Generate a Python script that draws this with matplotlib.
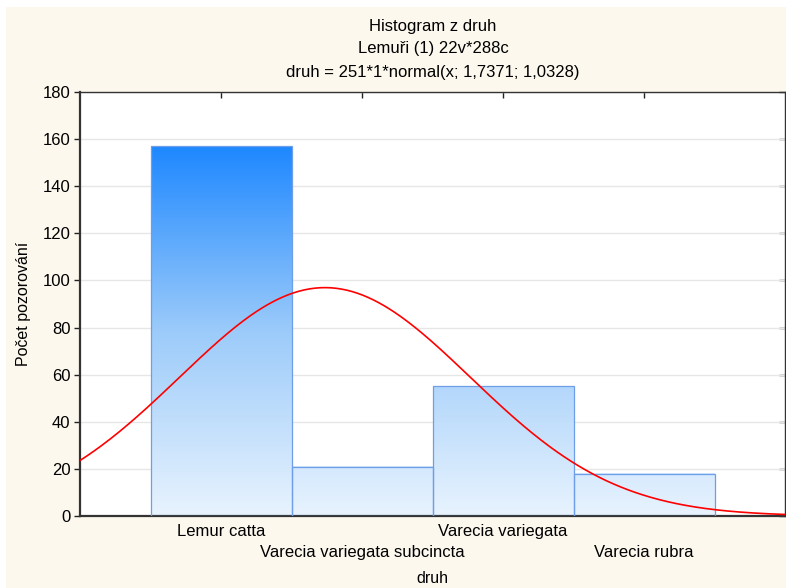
import numpy as np
import matplotlib
matplotlib.use("Agg")
import matplotlib.pyplot as plt
from matplotlib.colors import LinearSegmentedColormap
from matplotlib.patches import Rectangle
from matplotlib import font_manager

# ── Data ─────────────────────────────────────────────────────────────────
species = ["Lemur catta", "Varecia variegata subcincta",
           "Varecia variegata", "Varecia rubra"]
codes = [1, 2, 3, 4]
counts = [157, 21, 55, 18]

# fitted normal from the title: druh = 251*1*normal(x; 1,7371; 1,0328)
fit_n = 251
fit_mean = 1.7371
fit_sd = 1.0328

title_lines = ["Histogram z druh", "Lemuři (1) 22v*288c",
               "druh = 251*1*normal(x; 1,7371; 1,0328)"]

# ── Fonts ────────────────────────────────────────────────────────────────
names = {f.name for f in font_manager.fontManager.ttflist}
base_font = "Liberation Sans" if "Liberation Sans" in names else "DejaVu Sans"
narrow_font = "Liberation Sans Narrow" if "Liberation Sans Narrow" in names else base_font
plt.rcParams["font.family"] = [base_font, "DejaVu Sans"]

cream = "#fcf8ee"
fig = plt.figure(figsize=(7.86, 5.88), dpi=100, facecolor="white")
fig.patches.append(Rectangle((6 / 786, 0), 1, 1 - 7 / 588, transform=fig.transFigure,
                             facecolor=cream, edgecolor="none", zorder=-10))

ax = fig.add_axes([80 / 786, 72 / 588, 705 / 786, 424 / 588])
ax.set_facecolor("white")

# gradient bars, colour depends on height across the whole plot
cmap = LinearSegmentedColormap.from_list("bars", ["#e8f3fe", "#9ccbfa", "#1e88ff"])
ymax_bar = max(counts)
for x, h in zip(codes, counts):
    grad = np.linspace(0, h / ymax_bar, 256).reshape(-1, 1)
    ax.imshow(grad, extent=[x - 0.5, x + 0.5, 0, h], origin="lower",
              cmap=cmap, vmin=0, vmax=1, aspect="auto", zorder=2,
              interpolation="bilinear")
    ax.add_patch(Rectangle((x - 0.5, 0), 1, h, facecolor="none",
                           edgecolor="#6f9ee8", lw=0.9, zorder=3))

xs = np.linspace(0, 5, 400)
ys = fit_n * 1 * np.exp(-0.5 * ((xs - fit_mean) / fit_sd) ** 2) / (fit_sd * np.sqrt(2 * np.pi))
ax.plot(xs, ys, color="#ff0000", lw=1.2, zorder=4)

ax.set_xlim(0, 5)
ax.set_ylim(0, 180)
ax.set_yticks(np.arange(0, 181, 20))
ax.set_xticks(codes)
ax.set_xticklabels(species)
ax.grid(axis="y", color="#e6e6e6", lw=1.0, zorder=0)
ax.set_axisbelow(True)

ax.tick_params(axis="x", direction="in", top=True, length=4, width=1,
               color="#222222", labelsize=12, pad=6)
for i, tick in enumerate(ax.xaxis.get_major_ticks()):
    if i % 2 == 1:
        tick.set_pad(21)
ax.tick_params(axis="y", direction="out", length=4, width=1,
               color="#222222", labelsize=12, pad=3)
sec = ax.secondary_yaxis("right")
sec.set_yticks(np.arange(0, 181, 20))
sec.tick_params(direction="in", length=4, width=1, color="#222222", labelright=False)
sec.spines["right"].set_visible(False)

for side in ["left", "bottom"]:
    ax.spines[side].set_linewidth(1.6)
    ax.spines[side].set_color("#333333")
for side in ["top", "right"]:
    ax.spines[side].set_linewidth(1.0)
    ax.spines[side].set_color("#333333")

ax.set_ylabel("Počet pozorování", fontsize=11.5)
ax.yaxis.set_label_coords(-49 / 705, 0.5)
ax.set_xlabel("druh", fontsize=11.5)
ax.xaxis.set_label_coords(0.5, -55 / 424)

for y_px, line in zip([27, 48, 72], title_lines):
    fig.text(433 / 786, 1 - y_px / 588, line, ha="center", va="center",
             fontsize=12, family=[narrow_font, "DejaVu Sans"])

fig.savefig("out.png", dpi=100, facecolor=fig.get_facecolor())
